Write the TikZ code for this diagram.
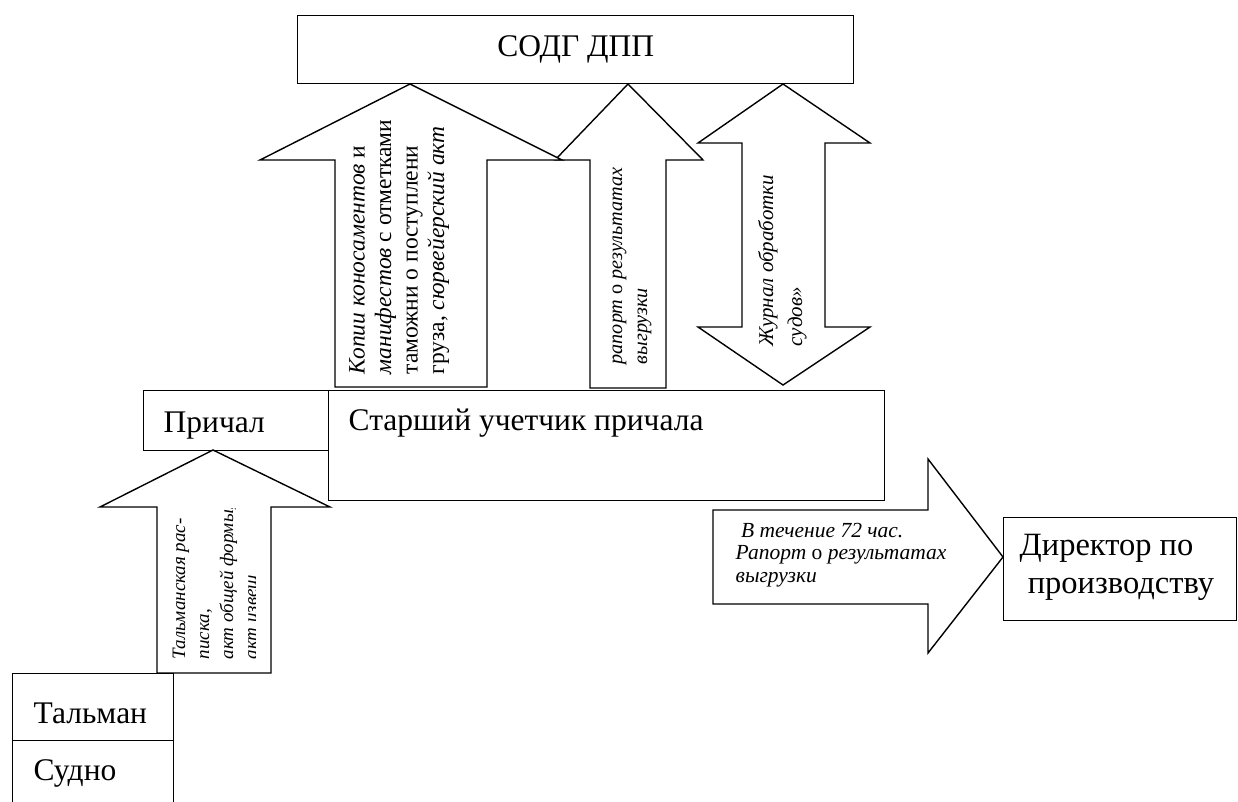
\documentclass[tikz,border=0pt]{standalone}
\usepackage{fontspec}
\setmainfont{Liberation Serif}
\usetikzlibrary{positioning}
\tikzstyle{every picture}+=[
  boxnode/.style={draw,shape=rectangle,anchor=north west,inner sep=0pt},
  bignode/.style={font=\fontsize{31.5}{38}\selectfont,inner sep=0pt,align=left},
  vnode/.style={rotate=90,anchor=base west,inner sep=0pt,align=left}
]
\newcommand*{\blockup}[8]{\draw[fill=white] (#1,#2) -- (#5,#3) -- (#7,#3) -- (#7,#8) -- (#6,#8) -- (#6,#3) -- (#4,#3) -- cycle}
\def\linew{1.4pt}

\begin{document}
\begin{tikzpicture}[x=1pt,y=-1pt,line width=\linew]
      \useasboundingbox (0,0) rectangle (1238,801);
      \node[boxnode,bignode,minimum width=556,minimum height=68] (sodg) at (297,15) {СОДГ ДПП};
      %
      \blockup{628}{84}{160}{555}{703}{590}{666}{388};
      \blockup{410}{84}{160}{260}{562}{335}{487}{387};
      \draw[fill=white] (783,84) -- (870,143) -- (825,143) -- (825,327) -- (870,327) -- (783,385)
        -- (698,327) -- (742,327) -- (742,143) -- (698,143) -- cycle;
      %
      \node[vnode,font=\fontsize{23.5}{26.5}\selectfont] (tkop) at (444,375)
        {\textit{Копии коносаментов} и\\\textit{манифестов} с отметками\\таможни о поступлени\\груза, \textit{сюрвейерский акт}};
      \node[vnode,font=\fontsize{20.2}{25}\selectfont] (trap) at (647,365)
        {\textit{рапорт} о \textit{результатах}\\\textit{выгрузки}};
      \node[vnode,font=\fontsize{21}{29}\selectfont\itshape] (tjur) at (802,347)
        {Журнал обработки\\судов»};
      %
      \node[boxnode,minimum width=556,minimum height=110] (uch) at (328,390) {};
      \node[bignode,anchor=base west] (tuch) at ([shift={(20,40)}]uch.north west) {Старший учетчик причала};
      \node[boxnode,minimum width=185,minimum height=60] (prich) at (143,390) {};
      \node[bignode,anchor=base west] (tprich) at ([shift={(20,42)}]prich.north west) {Причал};
      %
      \blockup{213}{450}{507}{100}{330}{157}{271}{673};
      \begin{scope}
        \clip (158,508) rectangle (255,672);
        \node[vnode,font=\fontsize{19}{24}\selectfont\itshape] (ttal) at (257,660)
          {Тальманская рас-\\писка,\\акт общей формы,\\акт извещ};
      \end{scope}
      %
      \node[boxnode,minimum width=161,minimum height=67] (talm) at (12,673) {};
      \node[bignode,anchor=base west] (ttalm) at ([shift={(21,50)}]talm.north west) {Тальман};
      \node[boxnode,minimum width=161,minimum height=80] (sud) at (12,740) {};
      \node[bignode,anchor=base west] (tsud) at ([shift={(21,40)}]sud.north west) {Судно};
      %
      \node[boxnode,minimum width=233,minimum height=103] (dir) at (1003,517) {};
      \draw[fill=white] (713,510) -- (928,510) -- (928,459) -- (dir.west |- 0,557) -- (928,653)
        -- (928,604) -- (713,604) -- cycle;
      \node[bignode,anchor=base west,font=\fontsize{32.5}{38}\selectfont] (tdir) at ([shift={(16,76)}]dir.north west)
        {Директор по\\\ производству};
      \node[anchor=base west,inner sep=0pt,align=left,font=\fontsize{21.5}{22.5}\selectfont] (t72) at (735,582)
        {\ \textit{В течение 72 час.}\\\textit{Рапорт} о \textit{результатах}\\\textit{выгрузки}};
      %
\end{tikzpicture}
\end{document}
